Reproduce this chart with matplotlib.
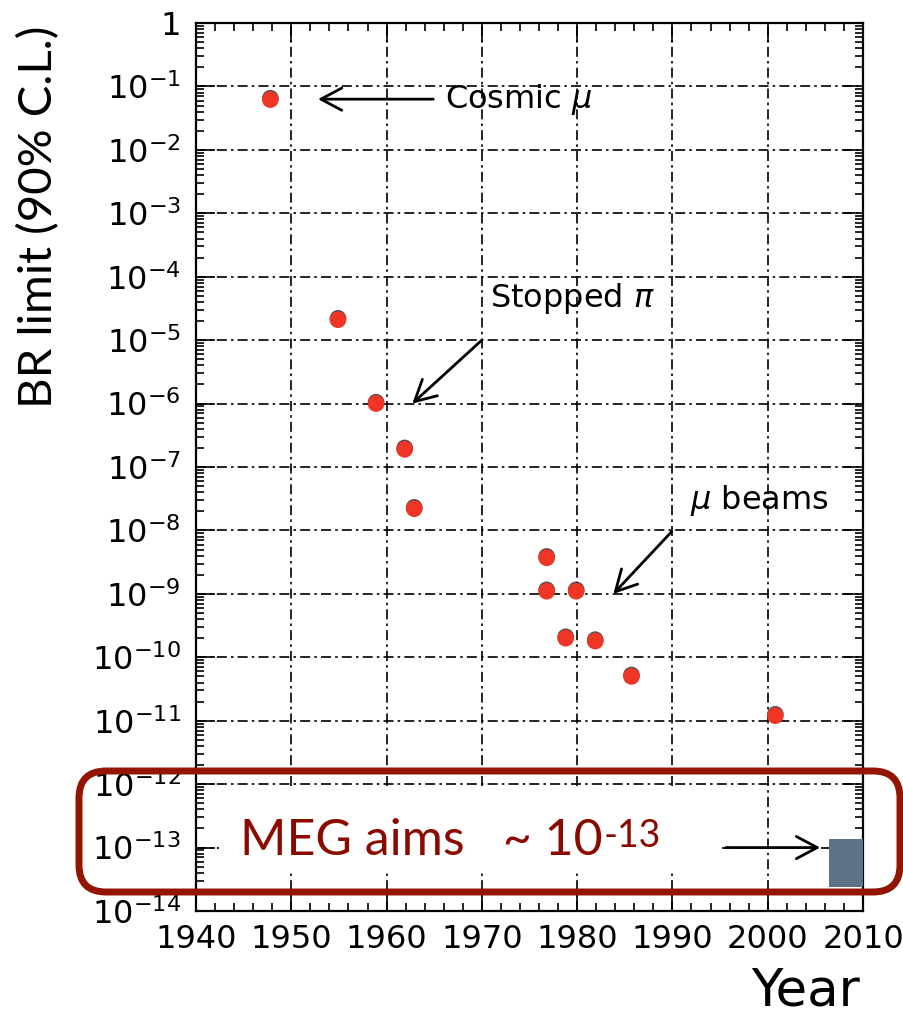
import matplotlib
matplotlib.use('Agg')
from matplotlib import pyplot as plt
from matplotlib import patches, patheffects
from matplotlib.ticker import FixedLocator, MultipleLocator, LogLocator, NullFormatter

# experimental upper limits on BR(mu -> e gamma)
years = [1947.8, 1954.9, 1958.9, 1961.9, 1962.9, 1976.8, 1976.8, 1979.9,
         1978.8, 1981.9, 1985.7, 2000.8]
limits = [6.2e-2, 2.1e-5, 1.0e-6, 1.9e-7, 2.2e-8, 3.7e-9, 1.1e-9, 1.1e-9,
          2.0e-10, 1.8e-10, 5.0e-11, 1.2e-11]

meg_years = (2006.4, 2010.0)
meg_range = (2.4e-14, 1.36e-13)

xticks = [1940, 1950, 1960, 1970, 1980, 1990, 2000, 2010]
ydecades = list(range(0, -15, -1))
ylabels = ['1'] + [r'$10^{%d}$' % k for k in ydecades[1:]]

W, H = 904, 1017
fig = plt.figure(figsize=(W / 100, H / 100), dpi=100)
ax = fig.add_axes([196 / W, 1 - 911 / H, (863 - 196) / W, (911 - 23) / H])

ax.set_yscale('log')
ax.set_xlim(1940, 2010)
ax.set_ylim(1e-14, 1)

ax.plot(years, limits, 'o', color='#ee3526', markersize=12, markeredgewidth=0,
        zorder=5,
        path_effects=[patheffects.SimplePatchShadow(offset=(0, 1.0), shadow_rgbFace='0.15', alpha=0.8),
                      patheffects.Normal()])

ax.add_patch(patches.Rectangle((meg_years[0], meg_range[0]), meg_years[1] - meg_years[0],
                               meg_range[1] - meg_range[0], facecolor='#5d7187',
                               edgecolor='none', zorder=5))

# axes styling
ax.yaxis.set_major_locator(FixedLocator([10.0 ** k for k in ydecades]))
ax.set_yticklabels(ylabels)
ax.yaxis.set_minor_locator(LogLocator(base=10, subs=range(2, 10), numticks=100))
ax.yaxis.set_minor_formatter(NullFormatter())
ax.set_xticks(xticks)
ax.xaxis.set_minor_locator(MultipleLocator(2))
ax.tick_params(which='both', direction='in', top=True, right=True, width=1.2,
               labelsize=23, colors='black')
ax.tick_params(which='major', length=14)
ax.tick_params(which='minor', length=6)
ax.tick_params(axis='y', pad=11)
ax.tick_params(axis='x', pad=9)
for s in ax.spines.values():
    s.set_linewidth(1.6)
ax.grid(True, which='major', color='black', linestyle=(0, (6, 2.5, 1.5, 2.5)), linewidth=1.2)

# annotations
arrow = dict(arrowstyle='->,head_length=0.75,head_width=0.4', color='black', lw=2.0,
             shrinkA=0, shrinkB=0, mutation_scale=20)
ax.annotate('', xy=(1952.8, 6.3e-2), xytext=(1964.9, 6.3e-2), arrowprops=arrow, zorder=6)
ax.text(1966.1, 6.3e-2, r'Cosmic $\mu$', fontsize=23, va='center', ha='left')
ax.annotate('', xy=(1962.7, 1.0e-6), xytext=(1970.0, 1.0e-5), arrowprops=arrow, zorder=6)
ax.text(1970.9, 4.6e-5, r'Stopped $\pi$', fontsize=23, va='center', ha='left')
ax.annotate('', xy=(1983.8, 1.0e-9), xytext=(1989.9, 9.5e-9), arrowprops=arrow, zorder=6)
ax.text(1991.8, 3.0e-8, r'$\mu$ beams', fontsize=23, va='center', ha='left')
ax.annotate('', xy=(2005.5, 1e-13), xytext=(1995.6, 1e-13), arrowprops=arrow, zorder=6)

# white text background that hides the grid
inch = fig.dpi_scale_trans
ax.add_patch(patches.Rectangle((2.19, (H - 873) / 100), 5.03, 0.83, transform=inch,
                               facecolor='white', edgecolor='none', zorder=3))

fig.text(0.39, (H - 26) / 100, 'BR limit (90% C.L.)', transform=inch, rotation=90,
         ha='center', va='top', fontsize=34, family=['Lato', 'DejaVu Sans'])
fig.text(8.60, 0.0, 'Year', transform=inch, ha='right', va='bottom', fontsize=37)

box = patches.FancyBboxPatch((0.79, (H - 892) / 100), 8.21, 1.21,
                             boxstyle='round,pad=0,rounding_size=0.27', transform=inch,
                             facecolor='none', edgecolor='#931400', linewidth=5, zorder=4)
fig.add_artist(box)

meg = fig.text(2.40, (H - 855) / 100, 'MEG aims   ~ 10', transform=inch, ha='left',
               va='baseline', fontsize=36, color='#8a0a00', family=['Lato', 'DejaVu Sans'],
               zorder=5)
ax.annotate('-13', xy=(1.0, 1.0), xycoords=meg, xytext=(1, 0), textcoords='offset points',
            ha='left', va='top', fontsize=27, color='#8a0a00', family=['Lato', 'DejaVu Sans'],
            annotation_clip=False)

fig.savefig('out.png', dpi=100)
